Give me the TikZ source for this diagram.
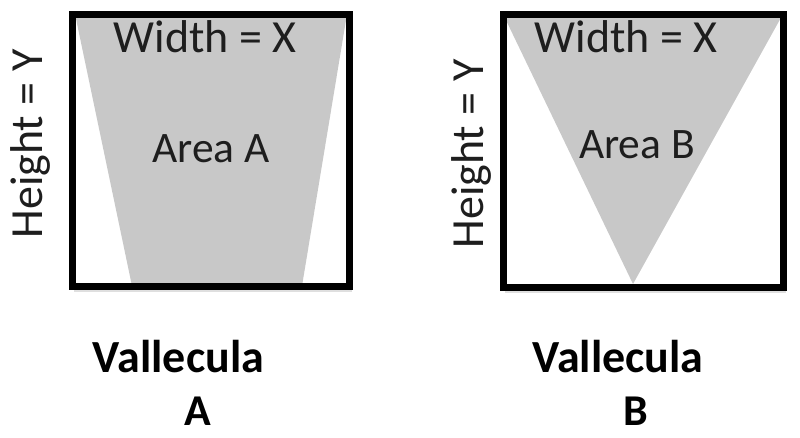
\documentclass[tikz,border=0pt]{standalone}
\usepackage{fontspec}
\setmainfont{Carlito}
\definecolor{shade}{RGB}{200,200,200}
\definecolor{ink}{RGB}{30,30,30}
\begin{document}
\begin{tikzpicture}[x=1pt,y=-1pt,
  frame/.style={draw=black,line width=7pt,line join=miter},
  region/.style={fill=shade,draw=none},
  lbl/.style={anchor=base,inner sep=0pt,text=ink,font=\fontsize{46}{50}\selectfont},
  arealbl/.style={anchor=base,inner sep=0pt,text=ink,font=\fontsize{43.5}{46}\selectfont},
  vlbl/.style={anchor=base,inner sep=0pt,text=black,font=\bfseries\fontsize{46}{50}\selectfont},
  letter/.style={anchor=base,inner sep=0pt,text=black,font=\bfseries\fontsize{44}{48}\selectfont}]
\useasboundingbox (0,0) rectangle (800,437);
% shadows
\fill[gray!25] (74,289) rectangle (352,292);
\fill[gray!25] (505,290) rectangle (786,293);
% Panel A
\fill[region] (75,14) -- (347,14) -- (302,286) -- (132,286) -- cycle;
\draw[frame] (72,14) rectangle (349,286);
\node[lbl] (wA) at (205,52) {Width = X};
\node[arealbl] (aA) at (211,162) {Area A};
\node[lbl,rotate=90] (hA) at (42,144) {Height = Y};
\node[vlbl] (vA) at (178.5,372) {Vallecula};
\node[letter] (lA) at (198,425) {A};
% Panel B
\fill[region] (503,14) -- (783,14) -- (633,284) -- cycle;
\draw[frame] (503,14) rectangle (783,287);
\node[lbl] (wB) at (626,52) {Width = X};
\node[arealbl] (aB) at (637,158) {Area B};
\node[lbl,rotate=90] (hB) at (483,154) {Height = Y};
\node[vlbl] (vB) at (618,372) {Vallecula};
\node[letter] (lB) at (636,425) {B};
\end{tikzpicture}
\end{document}
